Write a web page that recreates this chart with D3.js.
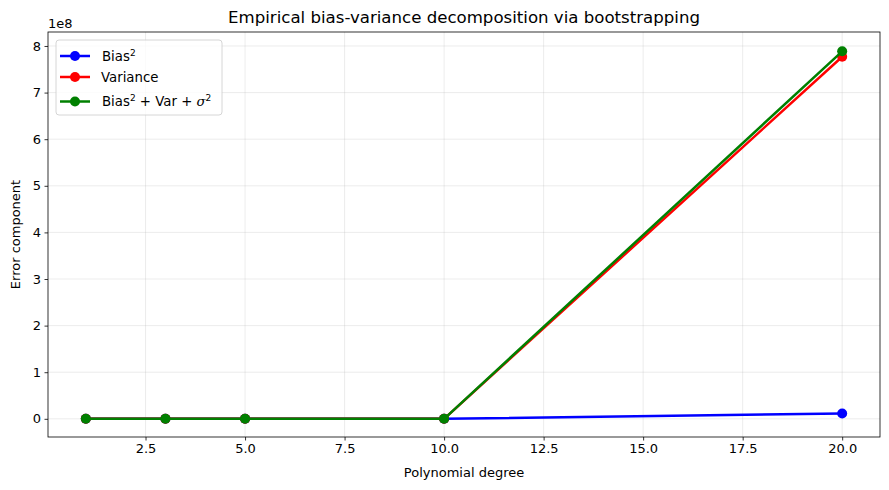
<!DOCTYPE html>
<html>
<head>
<meta charset="utf-8">
<script src="https://cdn.jsdelivr.net/npm/d3@7"></script>
<style>
  body { margin: 0; background: #fff; }
  svg text { font-family: "DejaVu Sans", sans-serif; fill: #000; }
</style>
</head>
<body>
<svg id="chart" width="889" height="490"></svg>
<script>
/* DATA */
const degrees = [1, 3, 5, 10, 20];
const bias2 = [0.62, 0.31, 0.27, 0.45, 1.16e7];
const variance = [0.02, 0.04, 0.09, 3.1e4, 7.77e8];
const total = [0.89, 0.60, 0.61, 3.1e4, 7.886e8];
const yTicks = [0, 1e8, 2e8, 3e8, 4e8, 5e8, 6e8, 7e8, 8e8];
const xTicks = [2.5, 5, 7.5, 10, 12.5, 15, 17.5, 20];

const series = [
  { name: "bias", values: bias2, color: "#0000ff" },
  { name: "variance", values: variance, color: "#ff0000" },
  { name: "total", values: total, color: "#008000" }
];

/* LAYOUT */
const width = 889, height = 490,
  margin = { top: 32, right: 9, bottom: 53, left: 48 },
  radius = 5;

const svg = d3.select("#chart");

const xScale = d3.scaleLinear()
  .domain([0.05, 20.95])
  .range([margin.left, width - margin.right]);

const yScale = d3.scaleLinear()
  .domain([-0.39e8, 8.3e8])
  .range([height - margin.bottom, margin.top]);

// grid
const grid = svg.append("g");
grid.selectAll(".gx").data(xTicks).join("line")
  .attr("x1", d => xScale(d)).attr("x2", d => xScale(d))
  .attr("y1", margin.top).attr("y2", height - margin.bottom)
  .attr("stroke", "#b0b0b0").attr("stroke-opacity", 0.3).attr("stroke-width", 0.8);
grid.selectAll(".gy").data(yTicks).join("line")
  .attr("y1", d => yScale(d)).attr("y2", d => yScale(d))
  .attr("x1", margin.left).attr("x2", width - margin.right)
  .attr("stroke", "#b0b0b0").attr("stroke-opacity", 0.3).attr("stroke-width", 0.8);

// axes
const xAxis = d3.axisBottom(xScale).tickValues(xTicks)
  .tickFormat(d3.format(".1f")).tickSize(3.5).tickPadding(3.5);
const yAxis = d3.axisLeft(yScale).tickValues(yTicks)
  .tickFormat(d => d / 1e8).tickSize(3.5).tickPadding(3.5);

const gx = svg.append("g")
  .attr("transform", `translate(0,${height - margin.bottom})`)
  .call(xAxis);
const gy = svg.append("g")
  .attr("transform", `translate(${margin.left},0)`)
  .call(yAxis);
[gx, gy].forEach(g => {
  g.select(".domain").remove();
  g.selectAll("line").attr("stroke", "#000").attr("stroke-width", 0.8);
  g.selectAll("text").attr("font-size", 13).attr("fill", "#000");
});

// lines and markers
const line = d3.line()
  .x((d, i) => xScale(degrees[i]))
  .y(d => yScale(d));

series.forEach(s => {
  svg.append("path")
    .datum(s.values)
    .attr("d", line)
    .attr("fill", "none")
    .attr("stroke", s.color)
    .attr("stroke-width", 2.5)
    .attr("stroke-linejoin", "round");
  svg.append("g").selectAll("circle")
    .data(s.values)
    .join("circle")
    .attr("cx", (d, i) => xScale(degrees[i]))
    .attr("cy", d => yScale(d))
    .attr("r", radius)
    .attr("fill", s.color);
});

// frame
svg.append("rect")
  .attr("x", margin.left).attr("y", margin.top)
  .attr("width", width - margin.left - margin.right)
  .attr("height", height - margin.top - margin.bottom)
  .attr("fill", "none").attr("stroke", "#000").attr("stroke-width", 0.8);

// texts
svg.append("text")
  .attr("x", (margin.left + width - margin.right) / 2).attr("y", 23)
  .attr("text-anchor", "middle").attr("font-size", 16.6)
  .text("Empirical bias-variance decomposition via bootstrapping");

svg.append("text")
  .attr("x", margin.left).attr("y", 28)
  .attr("font-size", 13).text("1e8");

svg.append("text")
  .attr("x", (margin.left + width - margin.right) / 2).attr("y", 477)
  .attr("text-anchor", "middle").attr("font-size", 13)
  .text("Polynomial degree");

svg.append("text")
  .attr("transform", `translate(20,${(margin.top + height - margin.bottom) / 2}) rotate(-90)`)
  .attr("text-anchor", "middle").attr("font-size", 13)
  .text("Error component");

// legend
const legend = svg.append("g").attr("transform", "translate(56,40)");
legend.append("rect")
  .attr("width", 166).attr("height", 75).attr("rx", 3)
  .attr("fill", "#fff").attr("fill-opacity", 0.8)
  .attr("stroke", "#cccccc").attr("stroke-width", 0.8);

const legendY = [16, 37, 61.5];
series.forEach((s, i) => {
  const g = legend.append("g").attr("transform", `translate(0,${legendY[i]})`);
  g.append("line").attr("x1", 4).attr("x2", 34)
    .attr("stroke", s.color).attr("stroke-width", 2.5);
  g.append("circle").attr("cx", 19).attr("r", radius).attr("fill", s.color);
});

const lt1 = legend.append("text").attr("x", 46).attr("y", legendY[0] + 4.5).attr("font-size", 13.3);
lt1.append("tspan").text("Bias");
lt1.append("tspan").attr("dy", -5).attr("font-size", 9).text("2");

legend.append("text").attr("x", 45).attr("y", legendY[1] + 4.5).attr("font-size", 13.3).text("Variance");

const lt3 = legend.append("text").attr("x", 46).attr("y", legendY[2] + 4.5).attr("font-size", 13.3);
lt3.append("tspan").text("Bias");
lt3.append("tspan").attr("dy", -5).attr("font-size", 9).text("2");
lt3.append("tspan").attr("dy", 5).text(" + Var + ");
lt3.append("tspan").attr("font-style", "italic").attr("font-family", "DejaVu Serif, serif").text("σ");
lt3.append("tspan").attr("dy", -5).attr("font-size", 9).text("2");
</script>
</body>
</html>
